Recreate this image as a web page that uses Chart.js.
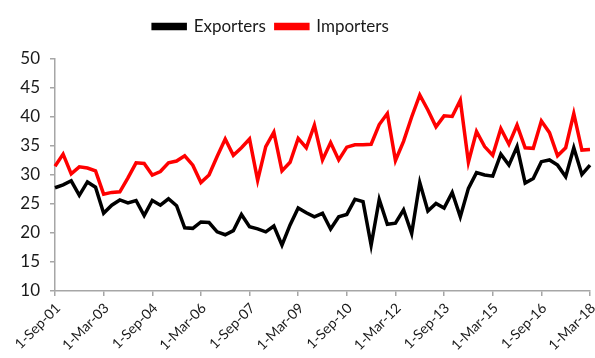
<!DOCTYPE html>
<html>
<head>
<meta charset="utf-8">
<script src="https://cdn.jsdelivr.net/npm/chart.js@4/dist/chart.umd.min.js"></script>
<style>
html,body{margin:0;padding:0;background:#fff;}
#wrap{width:595px;height:358px;}
</style>
</head>
<body>
<div id="wrap"><canvas id="c" width="595" height="358"></canvas></div>
<script>
const categories = [
 "1-Sep-01","1-Dec-01",
 "1-Mar-02","1-Jun-02","1-Sep-02","1-Dec-02",
 "1-Mar-03","1-Jun-03","1-Sep-03","1-Dec-03",
 "1-Mar-04","1-Jun-04","1-Sep-04","1-Dec-04",
 "1-Mar-05","1-Jun-05","1-Sep-05","1-Dec-05",
 "1-Mar-06","1-Jun-06","1-Sep-06","1-Dec-06",
 "1-Mar-07","1-Jun-07","1-Sep-07","1-Dec-07",
 "1-Mar-08","1-Jun-08","1-Sep-08","1-Dec-08",
 "1-Mar-09","1-Jun-09","1-Sep-09","1-Dec-09",
 "1-Mar-10","1-Jun-10","1-Sep-10","1-Dec-10",
 "1-Mar-11","1-Jun-11","1-Sep-11","1-Dec-11",
 "1-Mar-12","1-Jun-12","1-Sep-12","1-Dec-12",
 "1-Mar-13","1-Jun-13","1-Sep-13","1-Dec-13",
 "1-Mar-14","1-Jun-14","1-Sep-14","1-Dec-14",
 "1-Mar-15","1-Jun-15","1-Sep-15","1-Dec-15",
 "1-Mar-16","1-Jun-16","1-Sep-16","1-Dec-16",
 "1-Mar-17","1-Jun-17","1-Sep-17","1-Dec-17",
 "1-Mar-18"
];

const exporters = [
 27.8,28.3,29.0,26.5,28.8,27.9,23.4,24.8,25.7,25.2,
 25.6,23.0,25.6,24.8,25.9,24.7,20.9,20.8,21.9,21.8,
 20.2,19.7,20.4,23.2,21.1,20.7,20.2,21.2,17.9,21.4,
 24.3,23.5,22.8,23.4,20.7,22.8,23.2,25.8,25.4,17.9,
 25.8,21.5,21.7,24.0,19.9,28.7,23.8,25.1,24.3,27.0,
 22.8,27.7,30.4,30.0,29.8,33.6,31.7,34.9,28.6,29.4,
 32.3,32.6,31.7,29.7,34.7,30.1,31.7
];

const importers = [
 31.5,33.6,30.2,31.4,31.2,30.7,26.7,27.0,27.1,29.5,
 32.1,32.0,30.0,30.6,32.1,32.4,33.3,31.7,28.7,30.0,
 33.2,36.2,33.4,34.7,36.2,29.1,34.9,37.4,30.7,32.2,
 36.3,34.7,38.6,32.6,35.6,32.6,34.8,35.2,35.2,35.3,
 38.7,40.6,32.5,35.8,40.0,43.8,41.2,38.3,40.2,40.1,
 42.9,32.2,37.5,34.9,33.4,38.0,35.3,38.6,34.7,34.6,
 39.3,37.3,33.3,34.7,40.6,34.3,34.4
];

const seriesNames = ["Exporters","Importers"];
const yTicks = {min:10, max:50, step:5};
const labelEvery = 6;

const axisGray = '#a6a6a6';
const textCol = '#1a1a1a';
const fontFam = 'Lato, "Liberation Sans", sans-serif';

const legendTweak = {
  id:'legendTweak',
  beforeInit(chart){
    const lg = chart.legend;
    if(!lg) return;
    const fit = lg.fit;
    lg.fit = function(){ fit.call(lg); lg.height += 14; };
  },
  afterLayout(chart){
    const lg = chart.legend;
    if(!lg) return;
    lg.left -= 24; lg.right -= 24;
  }
};

new Chart(document.getElementById('c'), {
  type:'line',
  data:{
    labels:categories,
    datasets:[
      {label:seriesNames[0], data:exporters, borderColor:'#000000', backgroundColor:'#000000',
       borderWidth:3.5, pointRadius:0, tension:0, fill:false},
      {label:seriesNames[1], data:importers, borderColor:'#ff0000', backgroundColor:'#ff0000',
       borderWidth:3.5, pointRadius:0, tension:0, fill:false}
    ]
  },
  options:{
    responsive:false,
    animation:false,
    devicePixelRatio:1,
    layout:{padding:{top:8,right:5,left:0,bottom:0}},
    plugins:{
      legend:{
        display:true, position:'top', align:'center',
        labels:{boxWidth:32, boxHeight:4, padding:10, color:textCol,
                font:{family:fontFam, size:17}}
      },
      tooltip:{enabled:false}
    },
    scales:{
      x:{
        type:'category',
        offset:false,
        border:{display:true, color:axisGray, width:1.5},
        grid:{display:true, drawOnChartArea:false, drawTicks:true, tickLength:5, color:axisGray, lineWidth:1.5},
        ticks:{
          autoSkip:false, maxRotation:45, minRotation:45, padding:4, labelOffset:3,
          color:textCol, font:{family:fontFam, size:14},
          callback:function(v, i){ return (i % labelEvery === 0) ? categories[i] : null; }
        },
        afterFit:function(s){ s.height = 67; s.paddingRight = 0; s.paddingLeft = 0; }
      },
      y:{
        min:yTicks.min, max:yTicks.max,
        border:{display:true, color:axisGray, width:1.5},
        grid:{display:true, drawOnChartArea:false, drawTicks:true, tickLength:5, color:axisGray, lineWidth:1.5},
        ticks:{stepSize:yTicks.step, padding:10, color:textCol, font:{family:fontFam, size:17}},
        afterFit:function(s){ s.width = 55; }
      }
    }
  },
  plugins:[legendTweak]
});
</script>
</body>
</html>
